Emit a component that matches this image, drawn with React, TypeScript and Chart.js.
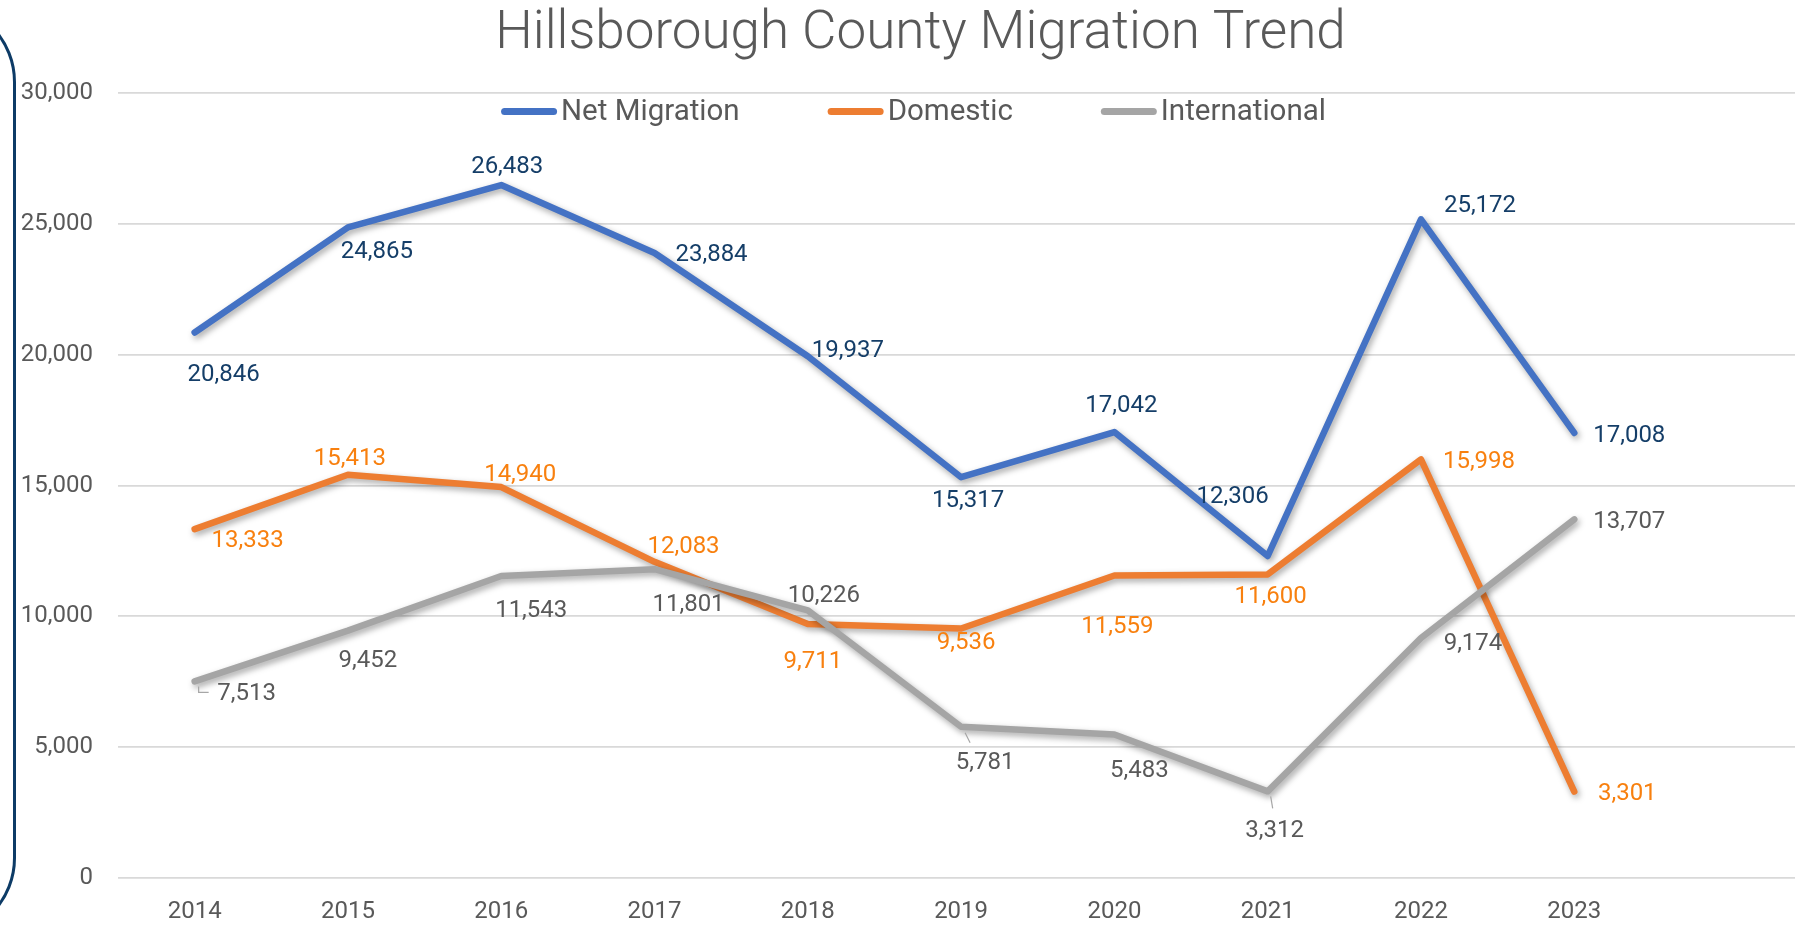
import React, { useEffect, useRef } from 'react';
import { Chart, registerables } from 'chart.js';

Chart.register(...registerables);

// ---- data ----
const years = [2014, 2015, 2016, 2017, 2018, 2019, 2020, 2021, 2022, 2023];
const netMigration = [20846, 24865, 26483, 23884, 19937, 15317, 17042, 12306, 25172, 17008];
const domestic = [13333, 15413, 14940, 12083, 9711, 9536, 11559, 11600, 15998, 3301];
const international = [7513, 9452, 11543, 11801, 10226, 5781, 5483, 3312, 9174, 13707];
const seriesNames = ['Net Migration', 'Domestic', 'International'];
const chartTitle = 'Hillsborough County Migration Trend';

// ---- styling / layout (not data) ----
const lineColors = ['#4472C4', '#ED7D31', '#A5A5A5'];
const labelColors = ['#153E68', '#F8800F', '#595959'];
const labelOffsets = [
  [[29, 41], [29, 24], [6, -19], [57, 1], [40, -6], [7, 23], [7, -27], [-35, -60], [59, -14], [55, 2]],
  [[53, 11], [2, -17], [19, -13], [29, -16], [5, 37], [5, 14], [3, 50], [3, 22], [58, 2], [53, 1]],
  [[52, 12], [20, 29], [30, 34], [34, 35], [16, -15], [24, 35], [25, 35], [7, 39], [52, 5], [55, 2]],
];
// small leader lines (series index, point index, polyline offsets from the point)
const leaderLines: [number, number, number[][]][] = [
  [2, 0, [[4, 5], [4, 11], [14, 11]]],
  [2, 5, [[4, 6], [9, 16]]],
  [2, 7, [[3, 5], [5, 17]]],
];
const FONT = 'Roboto';
const fmt = (v: number) => v.toLocaleString('en-US');

const shadowPlugin = {
  id: 'lineShadow',
  beforeDatasetDraw(chart: any) {
    const ctx = chart.ctx;
    ctx.save();
    ctx.shadowColor = 'rgba(0,0,0,0.35)';
    ctx.shadowBlur = 6;
    ctx.shadowOffsetX = 2;
    ctx.shadowOffsetY = 3;
  },
  afterDatasetDraw(chart: any) {
    chart.ctx.restore();
  },
};

const dataLabelPlugin = {
  id: 'valueLabels',
  afterDatasetsDraw(chart: any) {
    const ctx = chart.ctx;
    ctx.save();
    // leader lines
    ctx.strokeStyle = '#A6A6A6';
    ctx.lineWidth = 1.2;
    leaderLines.forEach(([si, pi, pts]) => {
      const pt = chart.getDatasetMeta(si).data[pi];
      ctx.beginPath();
      pts.forEach((p, k) => {
        if (k === 0) ctx.moveTo(pt.x + p[0], pt.y + p[1]);
        else ctx.lineTo(pt.x + p[0], pt.y + p[1]);
      });
      ctx.stroke();
    });
    ctx.font = `24px ${FONT}`;
    ctx.textAlign = 'center';
    ctx.textBaseline = 'middle';
    chart.data.datasets.forEach((ds: any, i: number) => {
      const meta = chart.getDatasetMeta(i);
      ctx.fillStyle = labelColors[i];
      meta.data.forEach((pt: any, j: number) => {
        const off = labelOffsets[i][j];
        ctx.fillText(fmt(ds.data[j].y), pt.x + off[0], pt.y + off[1] + 1);
      });
    });
    ctx.restore();
  },
};

const legendPlugin = {
  id: 'inlineLegend',
  afterDraw(chart: any) {
    const ctx = chart.ctx;
    ctx.save();
    ctx.font = `29.5px ${FONT}`;
    const lineLen = 56;
    const textGap = 4;
    const itemGap = 88;
    const items = chart.data.datasets.map((ds: any) => ({
      label: ds.label,
      color: ds.borderColor,
      w: ctx.measureText(ds.label).width,
    }));
    const total = items.reduce((s: number, it: any) => s + lineLen + textGap + it.w, 0) + itemGap * (items.length - 1);
    let x = chart.width / 2 - 7 - total / 2;
    const y = chart.chartArea.top + 18.5;
    items.forEach((it: any) => {
      ctx.strokeStyle = it.color;
      ctx.lineWidth = 7;
      ctx.lineCap = 'round';
      ctx.beginPath();
      ctx.moveTo(x + 3.5, y);
      ctx.lineTo(x + lineLen - 3.5, y);
      ctx.stroke();
      ctx.fillStyle = '#595959';
      ctx.textAlign = 'left';
      ctx.textBaseline = 'middle';
      ctx.fillText(it.label, x + lineLen + textGap, y + 1);
      x += lineLen + textGap + it.w + itemGap;
    });
    ctx.restore();
  },
};

export default function App() {
  const canvasRef = useRef<HTMLCanvasElement | null>(null);

  useEffect(() => {
    const canvas = canvasRef.current;
    if (!canvas) return;
    const series = [netMigration, domestic, international];
    const chart = new Chart(canvas, {
      type: 'line',
      data: {
        datasets: series.map((vals, i) => ({
          label: seriesNames[i],
          data: years.map((yr, j) => ({ x: yr, y: vals[j] })),
          borderColor: lineColors[i],
          backgroundColor: lineColors[i],
          borderWidth: 6.5,
          borderJoinStyle: 'round',
          borderCapStyle: 'round',
          pointRadius: 0,
          pointHoverRadius: 0,
          tension: 0,
          fill: false,
          order: 3 - i,
        })),
      },
      options: {
        responsive: false,
        maintainAspectRatio: false,
        animation: false,
        events: [],
        layout: { padding: 0 },
        plugins: {
          legend: { display: false },
          tooltip: { enabled: false },
          title: {
            display: true,
            text: chartTitle,
            color: '#595959',
            font: { family: FONT, size: 53, weight: '300', lineHeight: 1.2 },
            padding: { top: 2.5, bottom: 26.9 },
          },
        },
        scales: {
          x: {
            type: 'linear',
            min: 2013.5,
            max: 2024.74,
            grid: { display: false },
            border: { display: false },
            afterBuildTicks(scale: any) {
              scale.ticks = years.map((v) => ({ value: v }));
            },
            ticks: {
              autoSkip: false,
              maxRotation: 0,
              padding: 12,
              color: '#595959',
              font: { family: FONT, size: 24 },
              callback: (v: any) => String(v),
            },
            afterFit(scale: any) {
              scale.height = 48;
            },
          },
          y: {
            min: 0,
            max: 30000,
            grid: { color: '#D9D9D9', lineWidth: 1.75, drawTicks: false },
            border: { display: false },
            ticks: {
              stepSize: 5000,
              padding: 25,
              color: '#595959',
              font: { family: FONT, size: 24 },
              callback: (v: any) => fmt(Number(v)),
            },
            afterFit(scale: any) {
              scale.width = 118;
            },
          },
        },
      } as any,
      plugins: [shadowPlugin, dataLabelPlugin, legendPlugin],
    });
    return () => chart.destroy();
  }, []);

  return (
    <div
      style={{
        position: 'fixed',
        left: 0,
        top: 0,
        width: '100vw',
        height: '100vh',
        overflow: 'hidden',
        background: '#ffffff',
      }}
    >
      <canvas ref={canvasRef} width={1841} height={926} style={{ display: 'block' }} />
      <div
        style={{
          position: 'absolute',
          left: -284,
          top: 2,
          width: 300,
          height: 936,
          boxSizing: 'border-box',
          border: '3px solid #0D3B66',
          borderRadius: 80,
          pointerEvents: 'none',
        }}
      />
    </div>
  );
}
